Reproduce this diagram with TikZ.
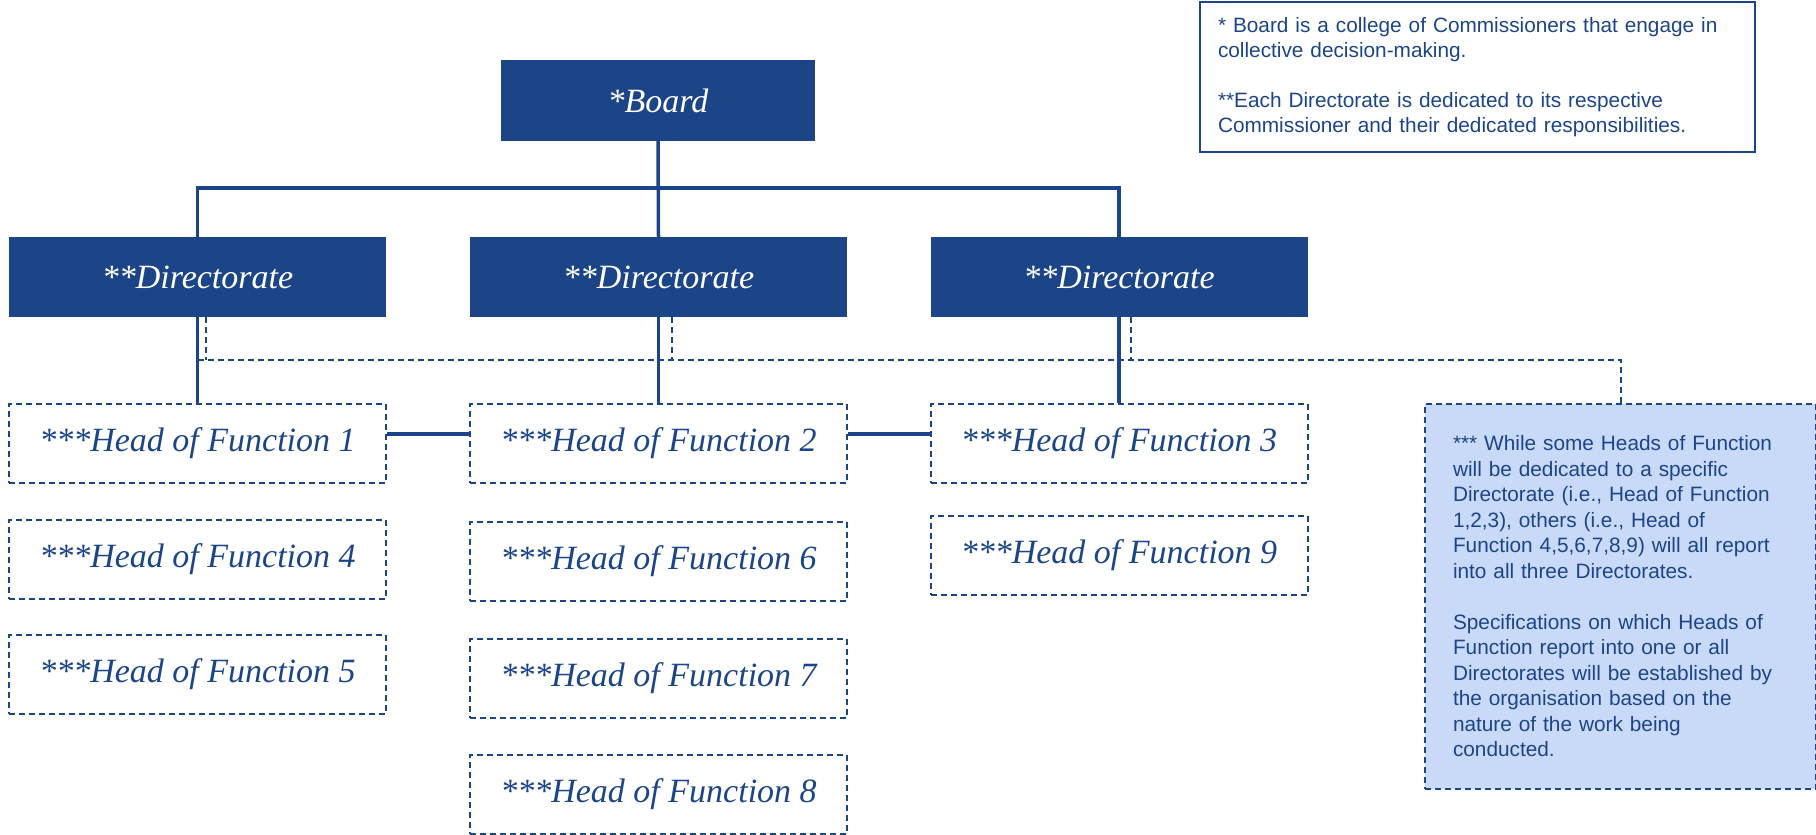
\documentclass[tikz,border=0pt]{standalone}
\usepackage{fontspec}
\setmainfont{Liberation Serif}
\newfontfamily\notefont{Liberation Sans}
\usepackage{tikz}
\usetikzlibrary{arrows,shapes,positioning}
\definecolor{darkblue}{HTML}{1C4587}
\definecolor{lightblue}{HTML}{C9DAF8}

\begin{document}
\begin{tikzpicture}[x=1pt,y=1pt]
                \tikzstyle{every node}+=[inner sep=0pt]
                \tikzstyle{topbox}=[fill=darkblue, text=white, minimum width=377pt, minimum height=80pt, font=\fontsize{34}{40}\selectfont\itshape]
                \tikzstyle{headbox}=[draw=darkblue, line width=2pt, dash pattern=on 6pt off 4pt, text=darkblue, minimum width=377pt, minimum height=79pt, font=\fontsize{34}{40}\selectfont\itshape]
                \tikzstyle{link}=[darkblue, line width=3.5pt]
                \tikzstyle{dashlink}=[darkblue, line width=2pt, dash pattern=on 6pt off 4pt]
                \tikzstyle{legendbox}=[draw=darkblue, line width=2pt, text=darkblue, align=left, font=\notefont\fontsize{20.8}{25}\selectfont]
                \useasboundingbox (0,0) rectangle (1816,-835);
                \node [topbox, minimum width=314pt, minimum height=81pt] (board) at (658,-100.5) {*Board};
                \node [topbox] (dir1) at (197.5,-277) {**Directorate};
                \node [topbox] (dir2) at (658.5,-277) {**Directorate};
                \node [topbox] (dir3) at (1119,-277) {**Directorate};
                \node [headbox] (hof1) at (197.5,-443.5) {***Head of Function 1};
                \node [headbox] (hof2) at (658.5,-443.5) {***Head of Function 2};
                \node [headbox] (hof3) at (1119,-443.5) {***Head of Function 3};
                \node [headbox] (hof4) at (197.5,-559.5) {***Head of Function 4};
                \node [headbox] (hof5) at (197.5,-674.5) {***Head of Function 5};
                \node [headbox] (hof6) at (658.5,-561) {***Head of Function 6};
                \node [headbox] (hof7) at (658.5,-678) {***Head of Function 7};
                \node [headbox] (hof8) at (658.5,-794.5) {***Head of Function 8};
                \node [headbox] (hof9) at (1119,-555) {***Head of Function 9};
                \node [legendbox, minimum width=555pt, minimum height=150pt, text width=519pt, inner xsep=18pt] (legend) at (1477.5,-77)
                    {* Board is a college of Commissioners that engage in\\
                     collective decision-making.\\[25pt]
                     **Each Directorate is dedicated to its respective\\
                     Commissioner and their dedicated responsibilities.};
                \node [legendbox, dash pattern=on 6pt off 4pt, fill=lightblue, minimum width=391pt, minimum height=385pt, text width=335pt, inner xsep=28pt, font=\notefont\fontsize{20.8}{25.5}\selectfont] (note) at (1620.5,-596.5)
                    {*** While some Heads of Function\\
                     will be dedicated to a specific\\
                     Directorate (i.e., Head of Function\\
                     1,2,3), others (i.e., Head of\\
                     Function 4,5,6,7,8,9) will all report\\
                     into all three Directorates.\\[25.5pt]
                     Specifications on which Heads of\\
                     Function report into one or all\\
                     Directorates will be established by\\
                     the organisation based on the\\
                     nature of the work being\\
                     conducted.};
                \coordinate (bar) at (658,-188);
                \coordinate (dashrow) at (0,-360);
                \draw [link] (board.south) -- (dir2.north);
                \draw [link] (dir1.north) |- (bar) -| (dir3.north);
                \draw [link] (dir1.south) -- (hof1.north);
                \draw [link] (dir2.south) -- (hof2.north);
                \draw [link] (dir3.south) -- (hof3.north);
                \draw [link] ([yshift=9.5pt]hof1.east) -- ([yshift=9.5pt]hof2.west);
                \draw [link] ([yshift=9.5pt]hof2.east) -- ([yshift=9.5pt]hof3.west);
                \draw [dashlink] ([xshift=8pt]dir1.south) -- ([xshift=8pt]dir1.south |- dashrow);
                \draw [dashlink] ([xshift=13pt]dir2.south) -- ([xshift=13pt]dir2.south |- dashrow);
                \draw [dashlink] ([xshift=12pt]dir3.south) -- ([xshift=12pt]dir3.south |- dashrow);
                \draw [dashlink] (dir1.south |- dashrow) -| (note.north);
\end{tikzpicture}
\end{document}
